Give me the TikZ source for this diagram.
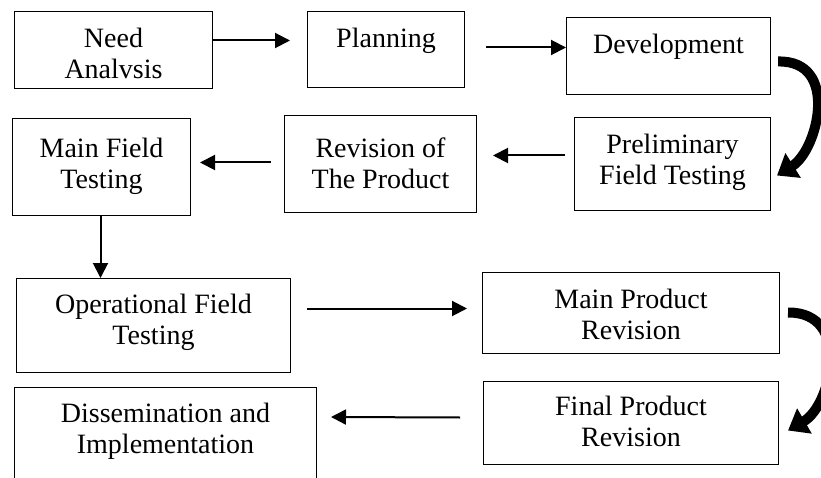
\documentclass[tikz,border=0pt]{standalone}
\usepackage{fontspec}
\setmainfont{Liberation Serif}
\usetikzlibrary{arrows.meta,calc}
\newcommand{\stagetext}[4][36pt]{\parbox[t][#3][t]{#2}{\centering\rule{0pt}{#1}#4}}
\tikzset{
  stagebox/.style={draw, line width=1pt, anchor=north west, inner sep=0pt,
    font=\fontsize{28}{31}\selectfont},
  flowarrow/.style={line width=2pt, -{Triangle[length=15pt,width=15pt]}},
  bigturn/.style={line width=10pt, -{Triangle[length=19pt,width=28pt]}}
}
\begin{document}
\begin{tikzpicture}[x=1pt,y=-1pt]
    \clip (0,0) rectangle (821,478);
    \node[stagebox] (need) at (14,11) {\stagetext{198pt}{77pt}{Need\\Analvsis}};
    \node[stagebox] (plan) at (307,11) {\stagetext{157pt}{76pt}{Planning}};
    \node[stagebox] (dev) at (566,17) {\stagetext{204pt}{77pt}{Development}};
    \node[stagebox] (mainfield) at (12,118) {\stagetext[39pt]{178pt}{97pt}{Main Field\\Testing}};
    \node[stagebox] (rev) at (284,115) {\stagetext[42pt]{192pt}{97pt}{Revision of\\The Product}};
    \node[stagebox] (prelim) at (574,117) {\stagetext{196pt}{93pt}{Preliminary\\Field Testing}};
    \node[stagebox] (oper) at (16,278) {\stagetext[35pt]{274pt}{94pt}{Operational Field\\Testing}};
    \node[stagebox] (mainrev) at (482,272) {\stagetext{297pt}{81pt}{Main Product\\Revision}};
    \node[stagebox] (finalrev) at (483,381) {\stagetext[34pt]{295pt}{83pt}{Final Product\\Revision}};
    \node[stagebox] (dissem) at (14,387) {\stagetext[35pt]{302pt}{110pt}{Dissemination and\\Implementation}};
    % straight links
    \draw[flowarrow] ($(need.east)+(0,-9.5)$) -- ($(plan.west)+(-17,-9)$);
    \draw[flowarrow] ($(plan.east)+(21,-2)$) -- ($(dev.west)+(0,-8.5)$);
    \draw[flowarrow] ($(prelim.west)+(-9,-8.5)$) -- ($(rev.east)+(16,-8.5)$);
    \draw[flowarrow] ($(rev.west)+(-13,-1.5)$) -- ($(mainfield.east)+(9,-4.5)$);
    \coordinate (drop) at ($(mainfield.south)+(-1,0)$);
    \draw[flowarrow] (drop) -- (drop |- oper.north);
    \draw[flowarrow] ($(oper.east)+(16,-17)$) -- ($(mainrev.west)+(-15,-4.5)$);
    \draw[flowarrow] ($(finalrev.west)+(-23,-5.5)$) -- ($(dissem.north east)+(14,30)$);
    % curved turns
    \draw[bigturn] ($(dev.east)+(7,5.5)$) .. controls (840,60) and (818,150) .. ($(prelim.east)+(6,11.5)$);
    \draw[bigturn] ($(mainrev.east)+(8,-0.5)$) .. controls (852,312) and (832,405) .. ($(finalrev.east)+(9,7.5)$);
\end{tikzpicture}
\end{document}
